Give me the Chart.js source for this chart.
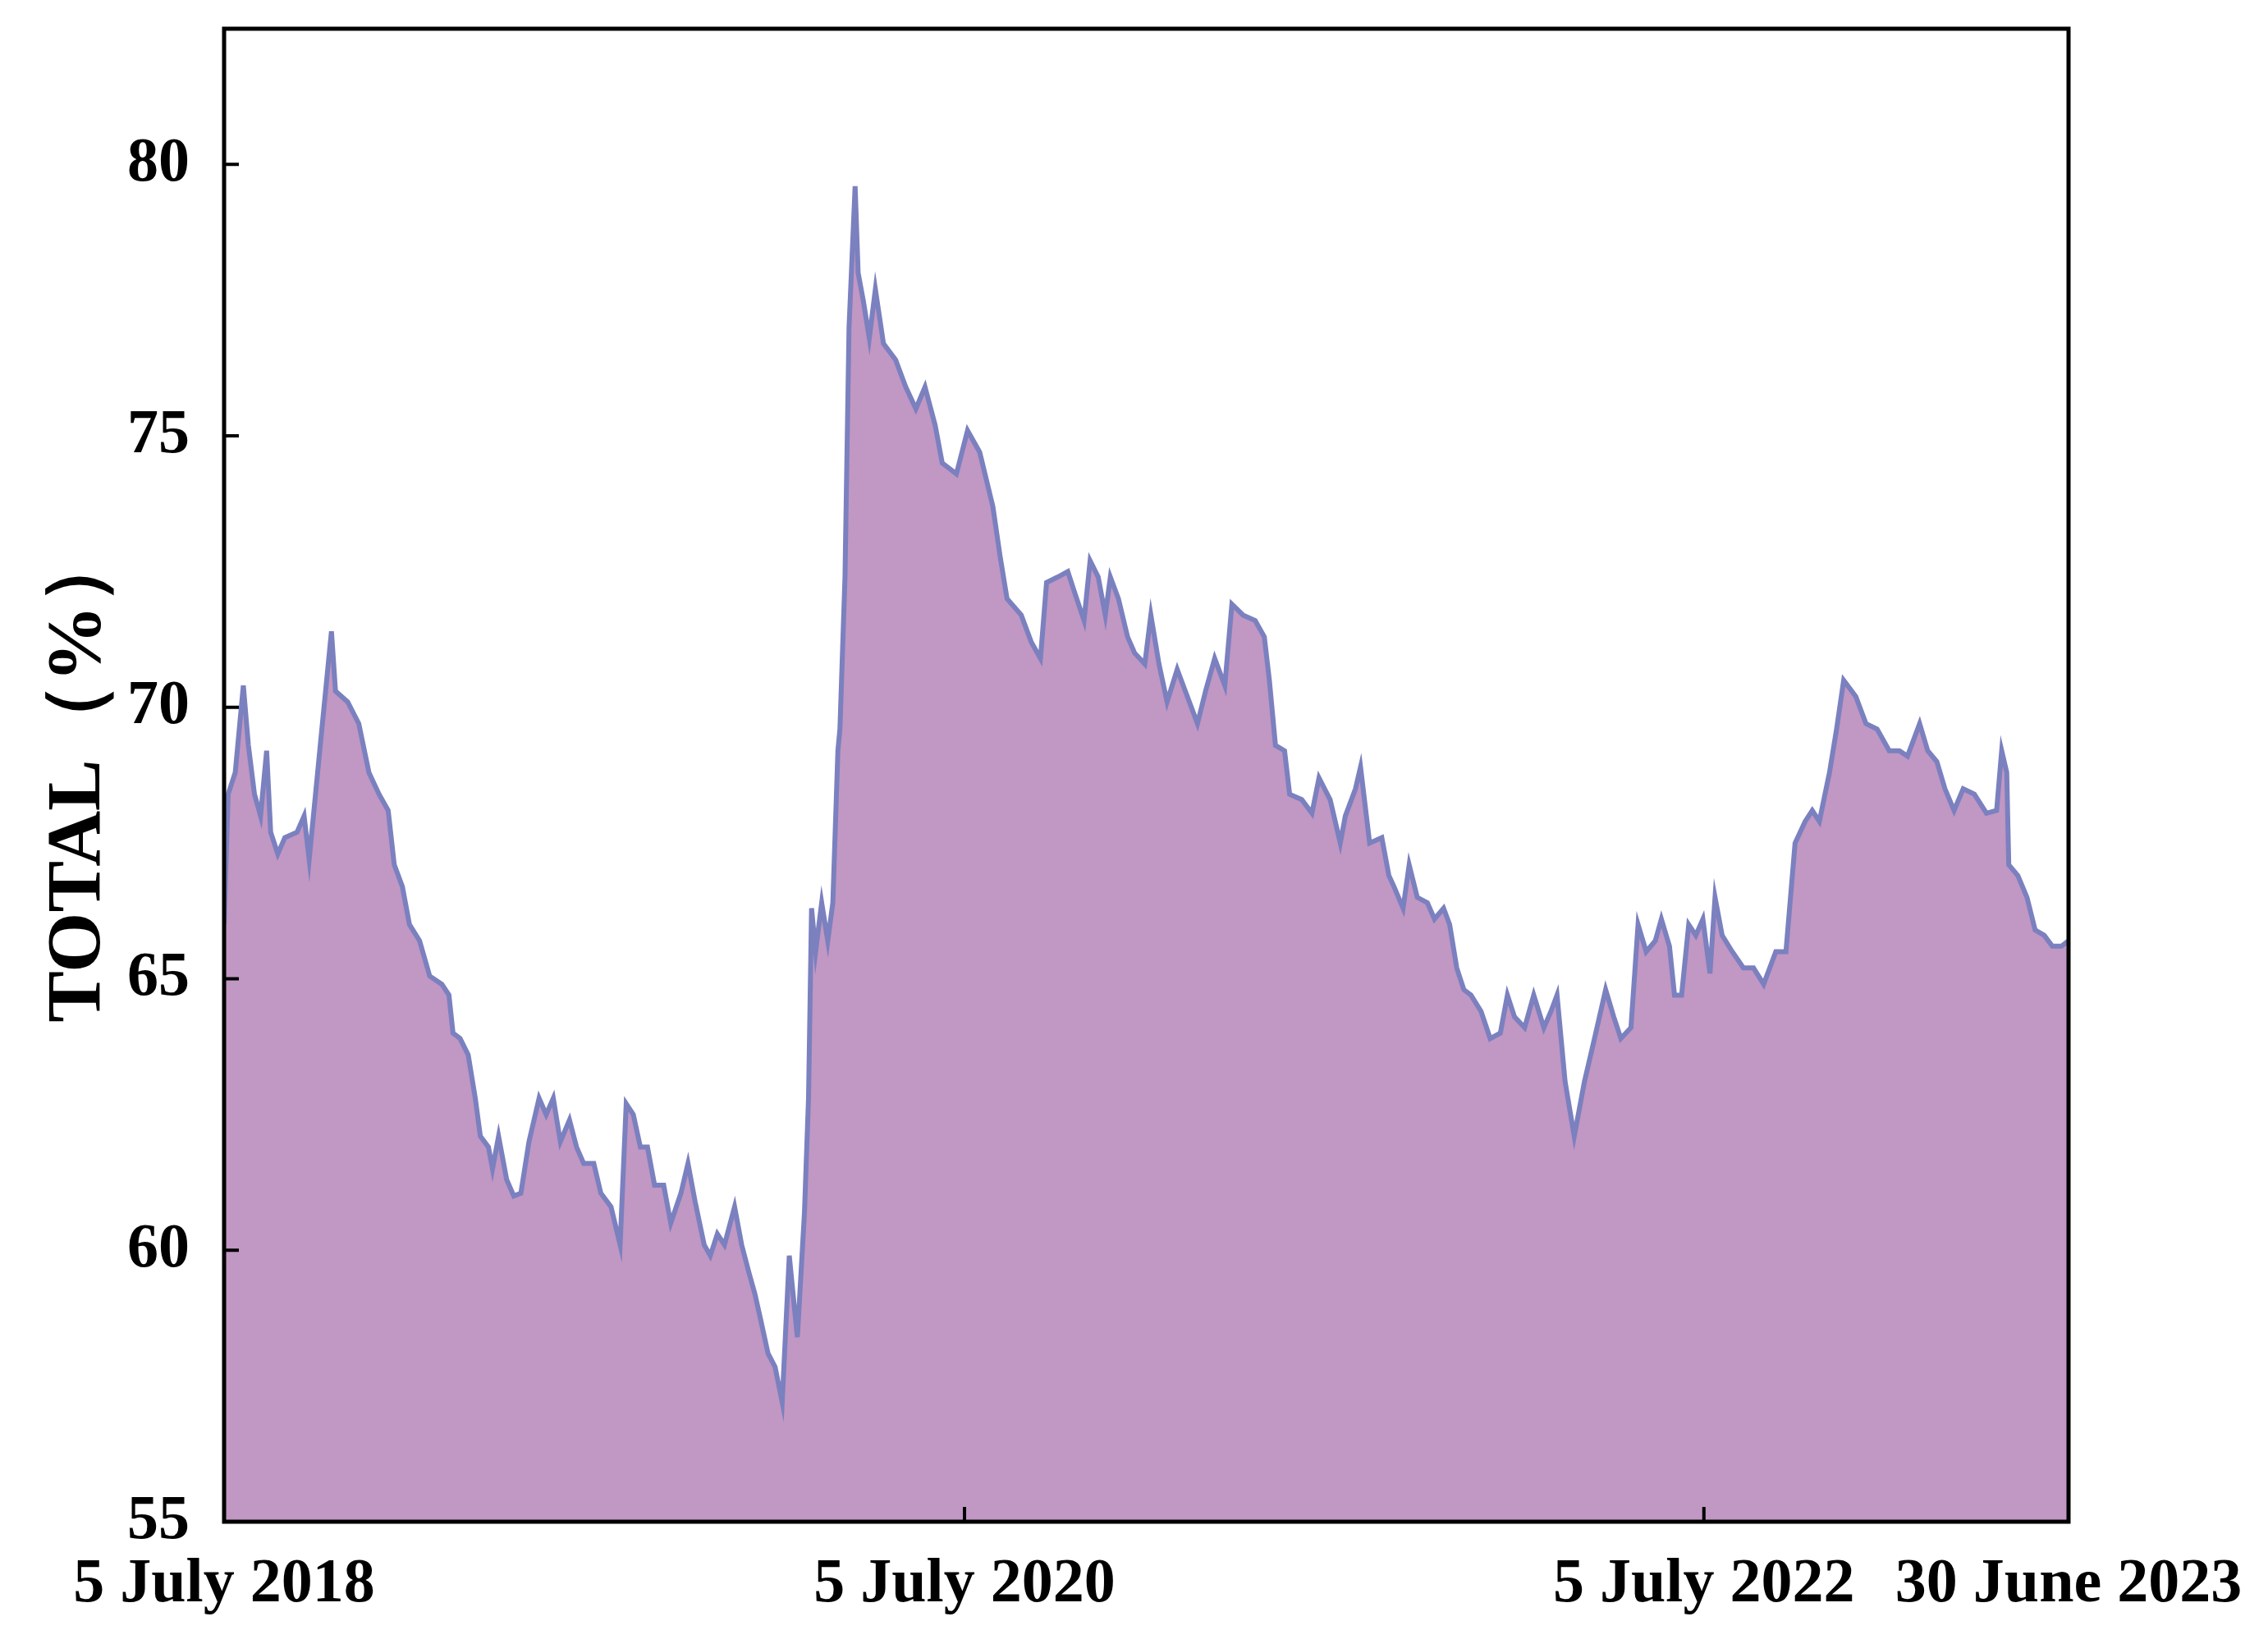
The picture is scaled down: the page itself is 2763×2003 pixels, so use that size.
<!DOCTYPE html>
<html><head><meta charset="utf-8">
<script src="https://cdn.jsdelivr.net/npm/chart.js@4"></script>
<style>html,body{margin:0;padding:0;background:#fff}#c{display:block}</style>
</head><body>
<canvas id="c" width="2763" height="2003"></canvas>
<script>
// days since 5 July 2018
const days = [
0,4,11,19,24,30,36,42,46,53,
60,72,79,84,96,106,110,122,133,143,
153,162,168,176,183,193,203,215,222,226,
233,241,248,253,261,265,271,279,286,293,
301,311,318,325,332,341,348,355,365,372,
382,391,397,404,411,418,425,434,441,451,
458,465,474,480,487,494,504,511,518,524,
530,537,544,551,558,566,573,577,580,584,
590,596,601,606,608,613,617,623,626,631,
637,643,651,663,673,683,692,702,709,723,
734,746,759,766,773,787,797,806,812,823,
833,840,849,855,863,870,875,883,892,899,
909,915,923,931,941,949,961,969,978,988,
995,1006,1018,1027,1032,1038,1047,1052,1064,1074,
1081,1092,1102,1107,1117,1122,1131,1143,1150,1155,
1164,1170,1178,1188,1195,1204,1210,1217,1224,1231,
1241,1250,1260,1267,1274,1284,1293,1303,1310,1316,
1324,1333,1343,1353,1364,1372,1379,1389,1396,1404,
1413,1419,1427,1432,1439,1446,1453,1460,1467,1472,
1479,1489,1500,1510,1520,1532,1542,1551,1561,1568,
1575,1585,1592,1599,1611,1621,1632,1644,1654,1662,
1674,1682,1691,1699,1708,1717,1728,1740,1750,1755,
1760,1762,1771,1780,1788,1797,1805,1814,1821];
const totals = [
66.0,68.4,68.8,70.4,69.3,68.4,68,69.2,67.7,67.3,
67.6,67.7,68,67.2,69.5,71.4,70.3,70.1,69.7,68.8,
68.4,68.1,67.1,66.7,66,65.7,65.05,64.9,64.7,64,
63.9,63.6,62.8,62.1,61.9,61.5,62.1,61.3,61,61.05,
62,62.8,62.5,62.8,62,62.4,61.9,61.6,61.6,61.05,
60.8,60.1,62.7,62.5,61.9,61.9,61.2,61.2,60.5,61.05,
61.6,60.9,60.1,59.9,60.3,60.1,60.8,60.1,59.6,59.2,
58.7,58.1,57.85,57.2,59.9,58.4,60.7,62.8,66.3,65.5,
66.4,65.7,66.4,69.2,69.6,72.4,77,79.6,78,77.5,
76.8,77.7,76.7,76.4,75.9,75.5,75.9,75.2,74.5,74.3,
75.1,74.7,73.7,72.8,72,71.7,71.2,70.9,72.3,72.4,
72.5,72.1,71.6,72.7,72.4,71.7,72.4,72,71.3,71,
70.8,71.7,70.8,70.1,70.7,70.3,69.7,70.3,70.9,70.4,
71.9,71.7,71.6,71.3,70.5,69.3,69.2,68.4,68.3,68.05,
68.7,68.3,67.5,68,68.5,68.9,67.5,67.6,66.9,66.7,
66.3,67.1,66.5,66.4,66.1,66.3,66,65.2,64.8,64.7,
64.4,63.9,64,64.7,64.3,64.1,64.7,64.1,64.4,64.7,
63.1,62.1,63.1,63.9,64.8,64.3,63.9,64.1,66,65.5,
65.7,66.1,65.6,64.7,64.7,66,65.8,66.1,65.1,66.5,
65.8,65.5,65.2,65.2,64.9,65.5,65.5,67.5,67.9,68.1,
67.9,68.8,69.6,70.5,70.2,69.7,69.6,69.2,69.2,69.1,
69.7,69.2,69,68.5,68.1,68.5,68.4,68.05,68.1,69.2,
68.8,67.1,66.9,66.5,65.9,65.8,65.6,65.6,65.7];
const xTickDays = [0, 731, 1461, 1821];
const xTickLabels = ['5 July 2018', '5 July 2020', '5 July 2022', '30 June 2023'];
const yTicks = [55, 60, 65, 70, 75, 80];

const frame = {
  id: 'frame',
  afterDraw(chart) {
    const {ctx, chartArea: a, scales: {x, y}} = chart;
    ctx.save();
    ctx.strokeStyle = '#000'; ctx.lineWidth = 5;
    ctx.strokeRect(a.left, a.top, a.right - a.left, a.bottom - a.top);
    ctx.lineWidth = 4;
    ctx.beginPath();
    yTicks.forEach(v => { const p = y.getPixelForValue(v); ctx.moveTo(a.left, p); ctx.lineTo(a.left + 18, p); });
    xTickDays.forEach(v => { const p = x.getPixelForValue(v); ctx.moveTo(p, a.bottom); ctx.lineTo(p, a.bottom - 18); });
    ctx.stroke();
    ctx.restore();
  }
};

const font = {family: 'Liberation Serif', weight: 'bold', size: 76};
new Chart(document.getElementById('c'), {
  type: 'line',
  data: { datasets: [{
    data: days.map((d, i) => ({x: d, y: totals[i]})),
    borderColor: '#7b80bf', backgroundColor: '#c197c3',
    fill: 'start', borderWidth: 6, pointRadius: 0, tension: 0
  }]},
  options: {
    responsive: false, animation: false, devicePixelRatio: 1,
    layout: {padding: {left: 0, right: 243, top: 35, bottom: 0}},
    plugins: {legend: {display: false}, tooltip: {enabled: false}},
    scales: {
      x: {
        type: 'linear', min: 0, max: 1821,
        afterBuildTicks: s => { s.ticks = xTickDays.map(v => ({value: v})); },
        afterFit: s => { s.height = 149; s.paddingLeft = 0; s.paddingRight = 0; },
        grid: {display: false}, border: {display: false},
        ticks: {font, color: '#000', padding: 24, maxRotation: 0, autoSkip: false,
          callback: v => xTickLabels[xTickDays.indexOf(v)]}
      },
      y: {
        min: 55, max: 82.5,
        afterBuildTicks: s => { s.ticks = yTicks.map(v => ({value: v})); },
        afterFit: s => { s.width = 273; s.paddingTop = 0; s.paddingBottom = 0; },
        grid: {display: false}, border: {display: false},
        ticks: {font, color: '#000', padding: 34},
        title: {display: true, text: 'TOTAL（%）', color: '#000',
          font: {family: 'Liberation Serif', weight: 'bold', size: 94}, padding: {top: 40, bottom: 0}}
      }
    }
  },
  plugins: [frame]
});
</script>
</body></html>
